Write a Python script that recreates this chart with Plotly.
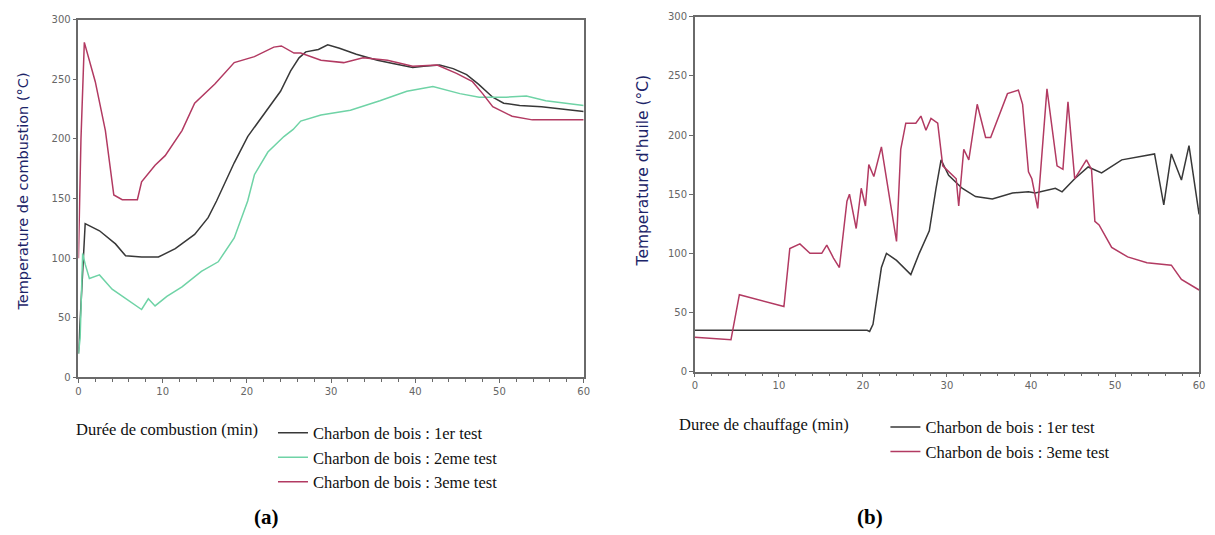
import plotly.graph_objects as go

W, H = 1215, 535

# ---- (a) combustion temperature, three charcoal tests ----
a_t1_x = [0, 0.3, 0.8, 2.5, 4.4, 5.6, 7.5, 9.5, 11.5, 13.8, 15.4, 16.4, 18.5, 20.1, 22.1, 24, 25.2, 26.2,
          27, 28.5, 29.6, 31, 33, 35.5, 37.5, 39.7, 41, 42.9, 44.5, 46.1, 47.5, 49.2, 50.5, 52.4, 55, 57.5, 60]
a_t1_y = [20, 60, 129, 123, 112, 102, 101, 101, 108, 120, 134, 148, 180, 202, 221, 240, 257, 268,
          273, 275, 279, 276, 271, 266, 263, 260, 261, 262, 259, 254, 246, 235, 230, 228, 227, 225, 223]

a_t2_x = [0, 0.2, 0.5, 0.8, 1.3, 2.5, 4.0, 5.6, 7.5, 8.3, 9.1, 10.5, 12.3, 14.6, 16.6, 18.5, 20.1, 20.9,
          22.5, 24.4, 25.5, 26.4, 28.8, 32.3, 35.8, 39, 42.1, 45.3, 47.6, 50.8, 53.2, 55.5, 60]
a_t2_y = [20, 33, 104, 95, 83, 86, 74, 66, 57, 66, 60, 68, 76, 89, 97, 117, 148, 170,
          189, 202, 208, 215, 220, 224, 232, 240, 244, 238, 235, 235, 236, 232, 228]

a_t3_x = [0, 0.3, 0.7, 2.0, 3.2, 4.2, 5.2, 7.0, 7.5, 9.1, 10.3, 12.3, 13.8, 16.2, 18.5, 20.9, 23.2, 24.1,
          25.6, 26.4, 28.8, 31.5, 33.8, 36.7, 39.7, 42.6, 44.9, 46.8, 48, 49.2, 51.5, 53.9, 60]
a_t3_y = [100, 200, 281, 248, 207, 153, 149, 149, 164, 178, 186, 207, 230, 246, 264, 269, 277, 278,
          272, 272, 266, 264, 268, 266, 261, 262, 255, 248, 238, 227, 219, 216, 216]

# ---- (b) oil temperature, tests 1 and 3 ----
b_t1_x = [0, 20.5, 20.8, 21.2, 22.2, 22.8, 24, 25.7, 26.7, 27.9, 28.7, 29.3, 30.2, 31.8, 33.4, 35.4,
          37.8, 39.7, 40.5, 42.9, 43.7, 45.2, 46.8, 48.4, 50.8, 53.1, 54.7, 55.8, 56.7, 57.9, 58.8, 60]
b_t1_y = [35, 35, 34, 40, 88, 100, 94, 82, 100, 119, 155, 179, 166, 155, 148, 146,
          151, 152, 151, 155, 152, 163, 173, 168, 179, 182, 184, 141, 184, 162, 191, 133]

b_t3_x = [0, 4.3, 5.3, 10.6, 11.3, 12.5, 13.7, 15.1, 15.7, 16.5, 17.2, 18.1, 18.4, 19.2, 19.8, 20.3,
          20.7, 21.3, 22.2, 24.0, 24.5, 25.1, 26.3, 26.9, 27.5, 28.1, 28.9, 29.5, 31.1, 31.4, 32, 32.6,
          33.6, 34.6, 35.2, 37.2, 38.5, 39, 39.7, 40.1, 40.8, 41.9, 43.1, 43.8, 44.4, 45.2, 46.6, 47.2,
          47.6, 48.1, 49.6, 51.5, 53.8, 56.7, 57.9, 60]
b_t3_y = [29, 27, 65, 55, 104, 108, 100, 100, 107, 96, 88, 144, 150, 121, 155, 140,
          175, 165, 190, 110, 188, 210, 210, 216, 204, 214, 210, 174, 163, 140, 188, 179,
          226, 198, 198, 235, 238, 226, 169, 163, 138, 239, 174, 171, 228, 163, 179, 171,
          127, 124, 105, 97, 92, 90, 78, 69]

names = ["Charbon de bois : 1er test", "Charbon de bois : 2eme test", "Charbon de bois : 3eme test"]
x_ticks = [0, 10, 20, 30, 40, 50, 60]
y_ticks = [0, 50, 100, 150, 200, 250, 300]

C_BLACK = "#383838"
C_GREEN = "#6fd3a6"
C_RED = "#b23a62"

fig = go.Figure()
fig.add_trace(go.Scatter(x=a_t1_x, y=a_t1_y, name=names[0], mode="lines",
                         line=dict(color=C_BLACK, width=1.5), xaxis="x", yaxis="y", legend="legend"))
fig.add_trace(go.Scatter(x=a_t2_x, y=a_t2_y, name=names[1], mode="lines",
                         line=dict(color=C_GREEN, width=1.5), xaxis="x", yaxis="y", legend="legend"))
fig.add_trace(go.Scatter(x=a_t3_x, y=a_t3_y, name=names[2], mode="lines",
                         line=dict(color=C_RED, width=1.5), xaxis="x", yaxis="y", legend="legend"))
fig.add_trace(go.Scatter(x=b_t1_x, y=b_t1_y, name=names[0], mode="lines",
                         line=dict(color=C_BLACK, width=1.5), xaxis="x2", yaxis="y2", legend="legend2"))
fig.add_trace(go.Scatter(x=b_t3_x, y=b_t3_y, name=names[2], mode="lines",
                         line=dict(color=C_RED, width=1.5), xaxis="x2", yaxis="y2", legend="legend2"))

tickfont = dict(family="DejaVu Sans", size=10, color="#666666")
axis_common = dict(showline=True, linecolor="#6a6a6a", linewidth=1.5, mirror=True,
                   ticks="outside", ticklen=4, tickcolor="#6a6a6a", tickfont=tickfont,
                   showgrid=False, zeroline=False, fixedrange=True)
xaxis_common = dict(axis_common, range=[0, 60], tickvals=x_ticks,
                    minor=dict(dtick=2, ticks="outside", ticklen=3, tickcolor="#6a6a6a"))
yaxis_common = dict(axis_common, range=[0, 300], tickvals=y_ticks)


def px_x(p):
    return p / W


def px_y(p):
    return 1 - p / H


legend_font = dict(family="Liberation Serif", size=16.5, color="#111111")

fig.update_layout(
    width=W, height=H,
    margin=dict(l=0, r=0, t=0, b=0),
    paper_bgcolor="white", plot_bgcolor="white",
    xaxis=dict(xaxis_common, domain=[px_x(76), px_x(585)], anchor="y"),
    yaxis=dict(yaxis_common, domain=[px_y(380), px_y(14)], anchor="x"),
    xaxis2=dict(xaxis_common, domain=[px_x(697), px_x(1205)], anchor="y2"),
    yaxis2=dict(yaxis_common, domain=[px_y(374), px_y(11)], anchor="x2"),
    legend=dict(x=px_x(272), y=px_y(419), xanchor="left", yanchor="top", font=legend_font,
                itemwidth=30, tracegroupgap=0, bgcolor="rgba(0,0,0,0)"),
    legend2=dict(x=px_x(889), y=px_y(413), xanchor="left", yanchor="top", font=legend_font,
                 itemwidth=30, tracegroupgap=0, bgcolor="rgba(0,0,0,0)"),
    showlegend=True,
)


def label(text, x, y, font, angle=0):
    return dict(text=text, x=px_x(x), y=px_y(y), xref="paper", yref="paper",
                xanchor="center", yanchor="middle", textangle=angle,
                showarrow=False, font=font)


title_font = dict(family="DejaVu Sans", size=14.5, color="#1c2468")
panel_font = dict(family="Liberation Serif", size=21, color="#000000")

fig.update_layout(annotations=[
    label("Temperature de combustion (°C)", 20, 190, title_font, -90),
    label("Temperature d'huile (°C)", 645, 168, dict(title_font, size=15.5), -90),
    label("Durée de combustion (min)", 165, 433, legend_font),
    label("Duree de chauffage (min)", 767, 428, legend_font),
    label("<b>(a)</b>", 265, 523, panel_font),
    label("<b>(b)</b>", 873, 523, panel_font),
])

fig.write_html("out.html")
